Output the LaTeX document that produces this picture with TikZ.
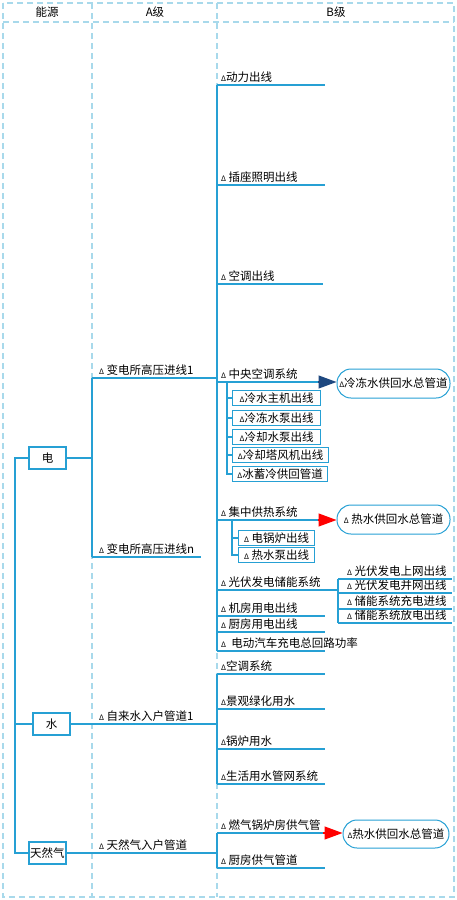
\documentclass[tikz,border=0pt]{standalone}
\usepackage{fontspec}
\setmainfont{Noto Sans CJK SC}
\usepackage{tikz}
\usetikzlibrary{arrows.meta,positioning}
\definecolor{wire}{RGB}{38,160,212}
\definecolor{lanec}{RGB}{168,217,235}
\definecolor{navy}{RGB}{30,72,128}
\newcommand{\dlt}{{\fontsize{7.5}{7.5}\selectfont Δ}}

\begin{document}
\begin{tikzpicture}[x=1pt,y=-1pt,
  font=\fontsize{11.5}{13}\selectfont,
  conn/.style={draw=wire,line width=1.2pt},
  lanes/.style={draw=lanec,line width=1.2pt,dash pattern=on 6pt off 4pt},
  item/.style={anchor=south west,inner xsep=4pt,inner ysep=2pt},
  aitem/.style={item,inner xsep=7pt},
  pvitem/.style={item,inner xsep=9pt},
  ebox/.style={draw=wire,line width=1.2pt,fill=white,minimum width=37pt,minimum height=22pt,inner sep=0pt},
  sbox/.style={draw=wire,line width=1.2pt,fill=white,anchor=west,minimum height=15pt,minimum width=88pt,inner xsep=2.5pt,inner ysep=0pt},
  pipe/.style={draw=wire,line width=1pt,rounded corners=14pt,minimum width=113pt,minimum height=29pt,inner sep=0pt},
  bluearrow/.style={draw=navy,line width=1.2pt,-{Triangle[length=18pt,width=13pt]}},
  redarrow/.style={draw=red,line width=1.2pt,-{Triangle[length=18pt,width=13pt]}}]
\useasboundingbox (0,0) rectangle (456,900);
%%Lanes
\draw[lanes] (3,3) rectangle (454,897);
\draw[lanes] (3,22) -- (454,22);
\draw[lanes] (92,3) -- (92,897);
\draw[lanes] (217,3) -- (217,897);
\node (h1) at (47,12) {能源};
\node (h2) at (155,12) {A级};
\node (h3) at (336,12) {B级};
%%Energy
\node[ebox] (dian) at (47.5,458) {电};
\node[ebox] (shui) at (51.5,724) {水};
\node[ebox] (qi) at (47.5,853) {天然气};
\coordinate (root) at (15,458);
\draw[conn] (dian.west) -- (root) |- (qi.west);
\draw[conn] (root |- shui.west) -- (shui.west);
%%A level
\coordinate (ja) at (92,458);
\coordinate (jb) at (217,378);
\coordinate (jw) at (217,724);
\coordinate (jg) at (217,853);
\node[aitem] (a1) at (92,378) {\dlt\ 变电所高压进线1};
\node[aitem] (a2) at (92,557) {\dlt\ 变电所高压进线n};
\node[aitem] (a3) at (92,724) {\dlt\ 自来水入户管道1};
\node[aitem] (a4) at (92,853) {\dlt\ 天然气入户管道};
\draw[conn] (dian.east) -- (ja);
\draw[conn] (a1.south west) -- (a2.south west);
\draw[conn] (a1.south west) -- (jb);
\draw[conn] (a2.south west) -- ++(109,0);
\draw[conn] (shui.east) -- (jw);
\draw[conn] (qi.east) -- (jg);
%%B level, electricity
\node[item] (b1) at (217,85) {\dlt 动力出线};
\node[item] (b2) at (217,185) {\dlt\ 插座照明出线};
\node[item] (b3) at (217,284) {\dlt\ 空调出线};
\node[item] (b4) at (217,382) {\dlt\ 中央空调系统};
\node[item] (b5) at (217,520) {\dlt\ 集中供热系统};
\node[item] (b6) at (217,590) {\dlt\ 光伏发电储能系统};
\node[item] (b7) at (217,616) {\dlt\ 机房用电出线};
\node[item] (b8) at (217,632) {\dlt\ 厨房用电出线};
\node[item] (b9) at (217,651) {\dlt\ \ 电动汽车充电总回路功率};
\draw[conn] (b1.south west) -- (b9.south west);
\draw[conn] (b1.south west) -- ++(108,0);
\draw[conn] (b2.south west) -- ++(108,0);
\draw[conn] (b3.south west) -- ++(106,0);
\draw[conn] (b7.south west) -- ++(108,0);
\draw[conn] (b8.south west) -- ++(108,0);
\draw[conn] (b9.south west) -- ++(108,0);
%%Pipes
\node[pipe] (cw1) at (393.5,383.5) {\dlt 冷冻水供回水总管道};
\node[pipe] (hw1) at (393.5,519.5) {\dlt\ 热水供回水总管道};
\node[pipe,minimum width=106pt,minimum height=28pt] (hw2) at (396,834) {\dlt 热水供回水总管道};
\draw[conn] (b4.south west) -- ++(101,0) coordinate (b4e);
\draw[bluearrow] (b4e) -- (b4e -| cw1.west);
\draw[conn] (b5.south west) -- ++(101,0) coordinate (b5e);
\draw[redarrow] (b5e) -- (b5e -| hw1.west);
%%Central air conditioning
\coordinate (c0) at ([xshift=10pt]b4.south west);
\node[sbox] (c1) at (232,398) {\dlt 冷水主机出线};
\node[sbox] (c2) at (232,418) {\dlt 冷冻水泵出线};
\node[sbox] (c3) at (232,437) {\dlt 冷却水泵出线};
\node[sbox,minimum width=96pt] (c4) at (232,455) {\dlt 冷却塔风机出线};
\node[sbox,minimum width=95pt] (c5) at (232,474) {\dlt 冰蓄冷供回管道};
\draw[conn] (c0) |- (c5.west);
\draw[conn] (c0 |- c1.west) -- (c1.west);
\draw[conn] (c0 |- c2.west) -- (c2.west);
\draw[conn] (c0 |- c3.west) -- (c3.west);
\draw[conn] (c0 |- c4.west) -- (c4.west);
%%Central heating
\coordinate (d0) at ([xshift=15pt]b5.south west);
\node[sbox,minimum width=76pt] (d1) at (238,538) {\dlt\ 电锅炉出线};
\node[sbox,minimum width=76pt] (d2) at (238,555) {\dlt\ 热水泵出线};
\draw[conn] (d0) |- (d2.west);
\draw[conn] (d0 |- d1.west) -- (d1.west);
%%Photovoltaic and storage
\coordinate (e0) at (338,590);
\node[pvitem] (e1) at (338,579) {\dlt\ 光伏发电上网出线};
\node[pvitem] (e2) at (338,593) {\dlt\ 光伏发电并网出线};
\node[pvitem] (e3) at (338,609) {\dlt\ 储能系统充电进线};
\node[pvitem] (e4) at (338,623) {\dlt\ 储能系统放电出线};
\draw[conn] (b6.south west) -- (e0);
\draw[conn] (e1.south west) -- (e4.south west);
\draw[conn] (e1.south west) -- ++(114,0);
\draw[conn] (e2.south west) -- ++(114,0);
\draw[conn] (e3.south west) -- ++(114,0);
\draw[conn] (e4.south west) -- ++(114,0);
%%B level, water
\node[item] (w1) at (217,674) {\dlt 空调系统};
\node[item] (w2) at (217,709) {\dlt 景观绿化用水};
\node[item] (w3) at (217,749) {\dlt 锅炉用水};
\node[item] (w4) at (217,784) {\dlt 生活用水管网系统};
\draw[conn] (w1.south west) -- (w4.south west);
\draw[conn] (w1.south west) -- ++(108,0);
\draw[conn] (w2.south west) -- ++(108,0);
\draw[conn] (w3.south west) -- ++(108,0);
\draw[conn] (w4.south west) -- ++(108,0);
%%B level, gas
\node[item] (g1) at (217,833) {\dlt\ 燃气锅炉房供气管};
\node[item] (g2) at (217,868) {\dlt\ 厨房供气管道};
\draw[conn] (g1.south west) -- (g2.south west);
\draw[conn] (g1.south west) -- ++(106,0) coordinate (g1e);
\draw[redarrow] (g1e) -- (g1e -| hw2.west);
\draw[conn] (g2.south west) -- ++(108,0);
\end{tikzpicture}
\end{document}
